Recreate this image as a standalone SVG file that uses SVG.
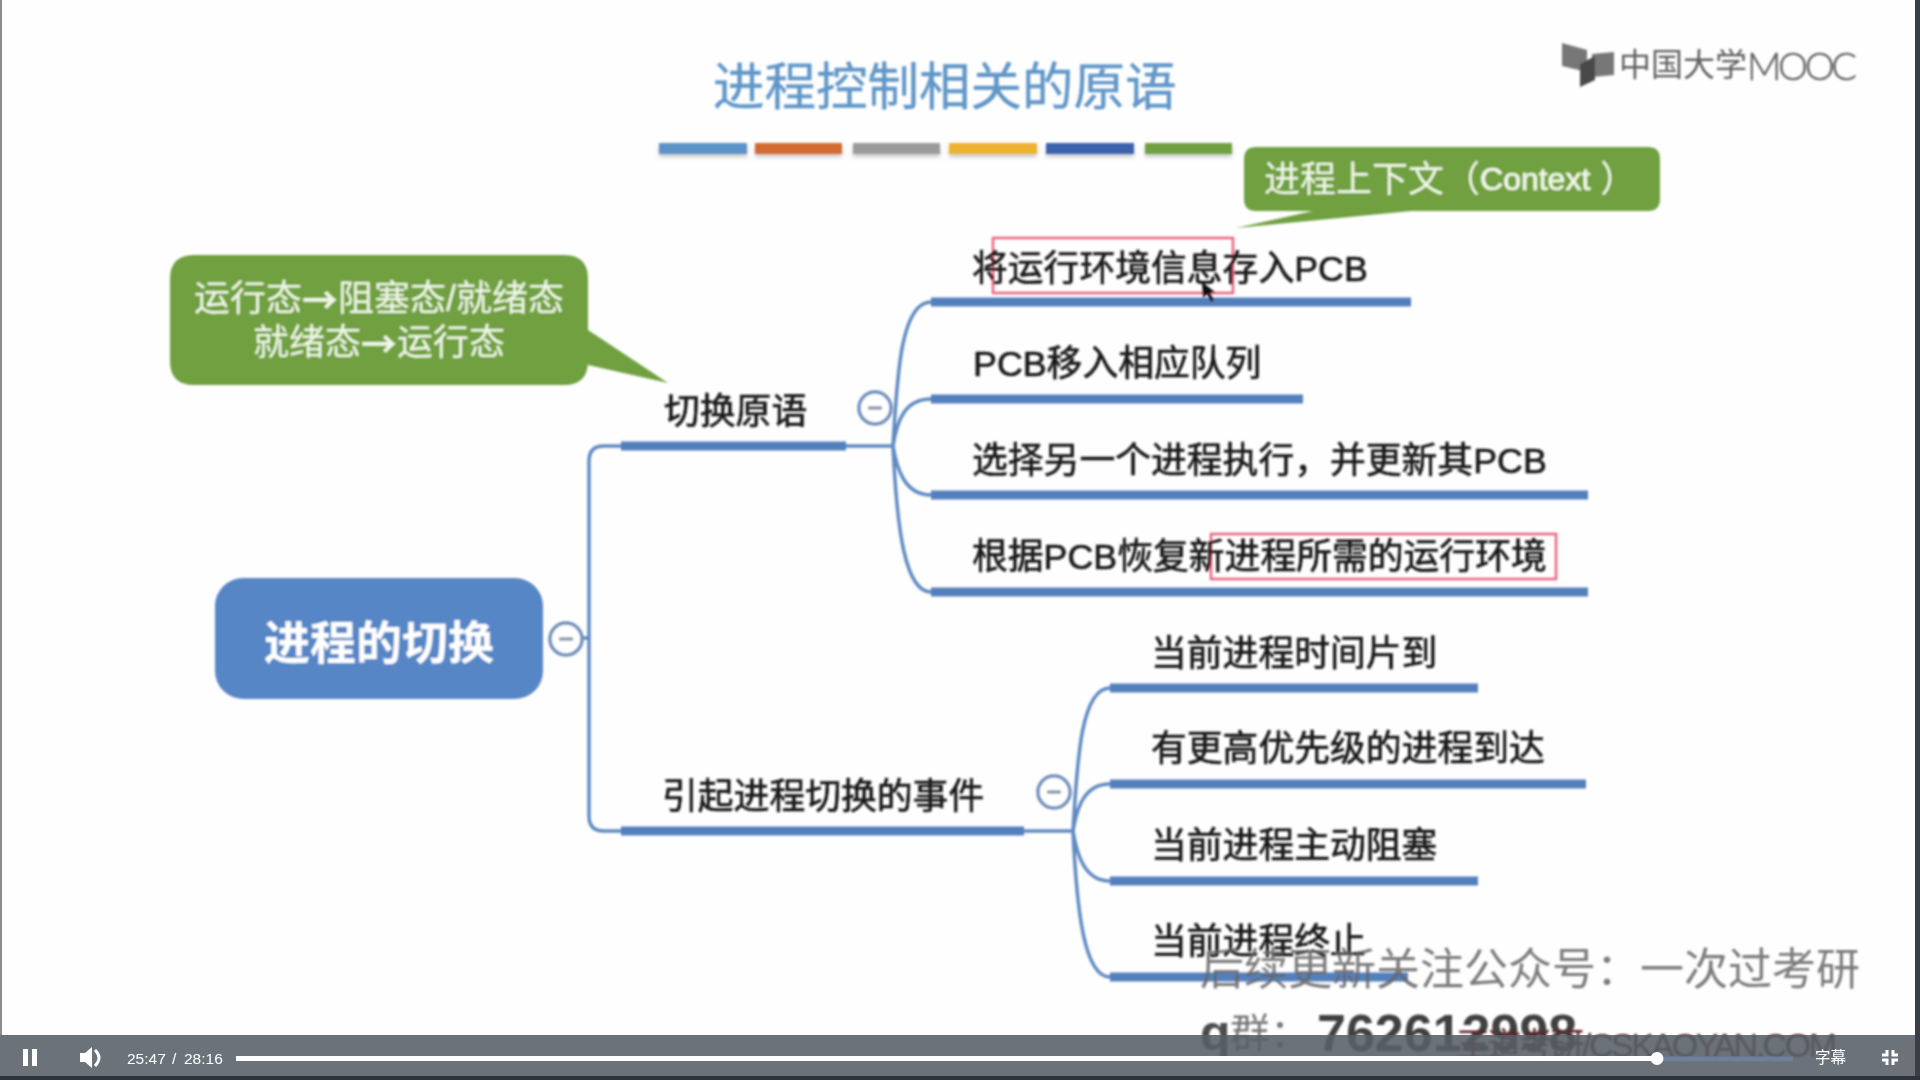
<svg xmlns="http://www.w3.org/2000/svg" width="1920" height="1080" viewBox="0 0 1920 1080">
<defs>
<filter id="soft" x="-5%" y="-5%" width="110%" height="110%"><feGaussianBlur stdDeviation="0.8"/></filter>
<filter id="shadow" x="-5%" y="-50%" width="110%" height="200%"><feDropShadow dx="0" dy="3" stdDeviation="2" flood-color="#888" flood-opacity=".45"/></filter>
</defs>
<style>
text{font-family:"Liberation Sans","Noto Sans CJK SC",sans-serif}
.lbl{font-size:35.800px;fill:#151515;stroke:#151515;stroke-width:.6;dominant-baseline:central}
.bar{stroke:#5280bc;stroke-width:9;fill:none}
.thin{stroke:#5f8ac2;stroke-width:3.500;fill:none}
.green{fill:#70a040}
.gt{fill:#f0f8e6;font-size:36px;dominant-baseline:central}
.arr{font-family:"Noto Sans CJK SC",sans-serif;font-weight:700}
.red{fill:none;stroke:#e9657f;stroke-width:2.500}
.col{fill:#fff;stroke:#6d8fbc;stroke-width:3.500}
.minus{stroke:#8d99aa;stroke-width:3.500}
.ui{fill:#fff;font-size:15.500px;dominant-baseline:central}
</style>
<rect width="1920" height="1080" fill="#fefefe"/>
<g filter="url(#soft)">
<g id="title">
<text x="713" y="87" font-size="51.500" fill="#6096c8" stroke="#6096c8" stroke-width=".4" dominant-baseline="central">进程控制相关的原语</text>
<g filter="url(#shadow)">
<rect x="659" y="143" width="88" height="11" fill="#5b92c6"/>
<rect x="755" y="143" width="87" height="11" fill="#d26a33"/>
<rect x="853" y="143" width="87" height="11" fill="#9b9b9b"/>
<rect x="949" y="143" width="88" height="11" fill="#eeb230"/>
<rect x="1046" y="143" width="88" height="11" fill="#3c62ad"/>
<rect x="1145" y="143" width="87" height="11" fill="#6fa042"/>
</g>
</g>
<g id="logo">
<path d="M1562 43L1587 50V72L1562 66Z" fill="#777"/>
<path d="M1592 54L1614 52V75L1592 77Z" fill="#777"/>
<path d="M1595 56L1580 64V87L1595 80Z" fill="#4a4a4a"/>
<text x="1619" y="65" font-size="32" fill="#5e5e5e" dominant-baseline="central">中国大学</text>
<text x="1747" y="65" font-size="38" fill="#5e5e5e" stroke="#5e5e5e" stroke-width=".4" font-weight="300" dominant-baseline="central" style="font-family:Lato,'Open Sans',sans-serif" textLength="110">MOOC</text>
</g>
<g id="connectors">
<path class="thin" d="M566 638H589M621 446H604Q589 446 589 461V816Q589 831 604 831H621"/>
<path class="thin" d="M846 446H893M893 446C897 380 900 302 931 302M893 446C897 420 905 399 931 399M893 446C897 470 905 495 931 495M893 446C897 530 905 592 931 592"/>
<path class="thin" d="M1024 831H1073M1073 831C1077 766 1080 688 1110 688M1073 831C1077 806 1085 784 1110 784M1073 831C1077 856 1085 881 1110 881M1073 831C1077 916 1085 977 1110 977"/>
</g>
<g id="root">
<rect x="215" y="578" width="328" height="121" rx="28" fill="#5686c6"/>
<text x="379" y="643" font-size="46" font-weight="700" fill="#fff" text-anchor="middle" dominant-baseline="central">进程的切换</text>
<circle class="col" cx="566" cy="639" r="16"/><path class="minus" d="M559 639H573"/>
</g>
<g id="note-states">
<path class="green" d="M194 255H564Q588 255 588 279V330L668 383L588 365V361Q588 385 564 385H194Q170 385 170 361V279Q170 255 194 255Z"/>
<text class="gt" x="379" y="298" text-anchor="middle">运行态<tspan class="arr">→</tspan>阻塞态/就绪态</text>
<text class="gt" x="379" y="342" text-anchor="middle">就绪态<tspan class="arr">→</tspan>运行态</text>
</g>
<g id="note-context">
<path class="green" d="M1256 147H1648Q1660 147 1660 159V199Q1660 211 1648 211H1411L1236 228L1313 211H1256Q1244 211 1244 199V159Q1244 147 1256 147Z"/>
<text class="gt" x="1264" y="179">进程上下文（<tspan font-size="32" stroke="#f0f8e6" stroke-width=".7">Context</tspan> ）</text>
</g>
<g id="switch-primitive">
<text class="lbl" x="664" y="412">切换原语</text>
<path class="bar" d="M621 446H846"/>
<circle class="col" cx="875" cy="408" r="16"/><path class="minus" d="M868 408H882"/>
</g>
<g id="item-save">
<rect class="red" x="993" y="238" width="240" height="55"/>
<text class="lbl" x="972" y="269">将运行环境信息存入PCB</text>
<path class="bar" d="M931 302H1411"/>
</g>
<g id="item-move">
<text class="lbl" x="973" y="364">PCB移入相应队列</text>
<path class="bar" d="M931 399H1303"/>
</g>
<g id="item-select">
<text class="lbl" x="972" y="461">选择另一个进程执行，并更新其PCB</text>
<path class="bar" d="M931 495H1588"/>
</g>
<g id="item-restore">
<rect class="red" x="1211" y="534" width="345" height="45"/>
<text class="lbl" x="972" y="557">根据PCB恢复新进程所需的运行环境</text>
<path class="bar" d="M931 592H1588"/>
</g>
<g id="switch-events">
<text class="lbl" x="662" y="797">引起进程切换的事件</text>
<path class="bar" d="M621 831H1024"/>
<circle class="col" cx="1054" cy="792" r="16"/><path class="minus" d="M1047 792H1061"/>
</g>
<g id="event-slice">
<text class="lbl" x="1151" y="654">当前进程时间片到</text>
<path class="bar" d="M1110 688H1478"/>
</g>
<g id="event-priority">
<text class="lbl" x="1151" y="749">有更高优先级的进程到达</text>
<path class="bar" d="M1110 784H1586"/>
</g>
<g id="event-block">
<text class="lbl" x="1151" y="846">当前进程主动阻塞</text>
<path class="bar" d="M1110 881H1478"/>
</g>
<g id="event-end">
<text class="lbl" x="1151" y="942">当前进程终止</text>
<path class="bar" d="M1110 977H1408"/>
</g>
<path id="cursor" d="M1202 282L1203 298L1207 294L1211 302L1214 300L1210 293L1215 292Z" fill="#111"/>
<g id="watermark">
<text x="1200" y="969" font-size="44" fill="#666" opacity=".85" dominant-baseline="central">后续更新关注公众号：一次过考研</text>
<text x="1200" y="1033" font-size="50" font-weight="700" fill="#4c4c4c" dominant-baseline="central">q</text>
<text x="1230" y="1033" font-size="40" fill="#777" dominant-baseline="central">群：</text>
<text x="1317" y="1033" font-size="52" font-weight="700" fill="#404040" dominant-baseline="central">762612998</text>
<text x="1456" y="1045" font-size="34" fill="#5a2428" dominant-baseline="central" textLength="381">王道考研/CSKAOYAN.COM</text>
</g>
</g>
<rect id="edge-left" x="0" y="0" width="2" height="1035" fill="#8d8d8d"/>
<rect id="edge-right" x="1915" y="0" width="5" height="1080" fill="#3a3f46"/>
<g id="player">
<rect x="0" y="1035" width="1915" height="41" fill="#575e67" opacity=".88"/>
<rect x="0" y="1076" width="1920" height="4" fill="#2e343c"/>
<rect x="23" y="1049" width="5" height="17" fill="#fff"/>
<rect x="32" y="1049" width="5" height="17" fill="#fff"/>
<path d="M80 1053H85L92 1047V1068L85 1062H80Z" fill="#fff"/>
<path d="M95 1050Q103 1057.500 95 1066" fill="none" stroke="#fff" stroke-width="3"/>
<text class="ui" x="127" y="1058">25:47</text>
<text class="ui" x="172" y="1058">/</text>
<text class="ui" x="184" y="1058">28:16</text>
<rect x="1657" y="1056.500" width="136" height="5" fill="#6d7f99"/>
<rect x="236" y="1056" width="1421" height="5" fill="#fff"/>
<ellipse cx="1657" cy="1058.500" rx="6.500" ry="6.500" fill="#fff"/>
<text class="ui" x="1815" y="1057">字幕</text>
<path d="M1887 1050V1055H1882M1893 1050V1055H1898M1887 1065V1060H1882M1893 1065V1060H1898" fill="none" stroke="#fff" stroke-width="3"/>
</g>
</svg>
